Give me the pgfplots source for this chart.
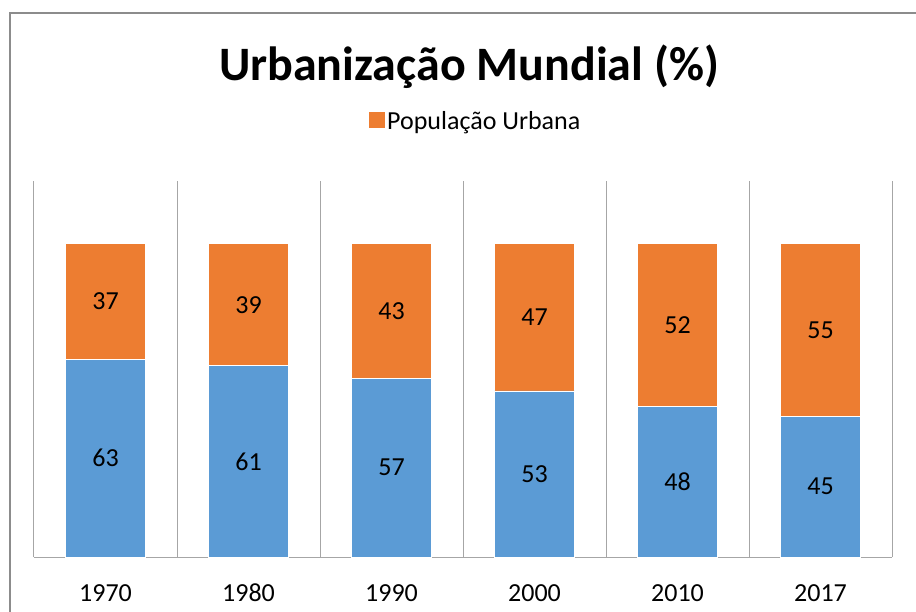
\documentclass[border=0pt]{standalone}
\usepackage{fontspec}
\setmainfont{Carlito}
\usepackage{pgfplots}
\pgfplotsset{compat=1.18}
\definecolor{rural}{HTML}{5B9BD5}
\definecolor{urbana}{HTML}{ED7D31}
\definecolor{gridgray}{HTML}{A6A6A6}
\definecolor{framegray}{HTML}{8C8C8C}
\begin{document}
\begin{tikzpicture}[x=1pt,y=1pt]
\useasboundingbox (0,0) rectangle (916,611);
\clip (0,0) rectangle (916,611);
\draw[framegray, line width=1.2pt] (10,598) rectangle (950,-40);
\begin{axis}[
  at={(34pt,54pt)}, anchor=south west,
  scale only axis, width=858pt, height=376pt,
  ybar stacked, bar width=0.56,
  xmin=-0.5, xmax=5.5, ymin=0, ymax=120,
  xtick={0,...,5},
  xticklabels={1970,1980,1990,2000,2010,2017},
  xticklabel style={font=\fontsize{26}{30}\selectfont, anchor=base, text height=18pt, text depth=0pt, yshift=-44pt},
  major tick length=0pt, minor tick length=0pt,
  ytick=\empty,
  minor xtick={-0.5,0.5,...,5.5},
  xminorgrids, minor grid style={gridgray, line width=1pt},
  axis x line*=bottom, axis y line=none,
  axis line style={gridgray, line width=1pt, -},
  /pgf/number format/assume math mode=true,
  nodes near coords,
  every node near coord/.append style={font=\fontsize{26}{30}\selectfont, text=black},
  legend style={at={(0.515,1.16)}, anchor=center, draw=none,
    font=\fontsize{26}{30}\selectfont},
  legend image code/.code={\fill[urbana] (-4pt,-7pt) rectangle (11pt,8pt);},
]
\addplot[fill=rural, draw=white, line width=0.8pt, forget plot] coordinates {
  (0,63) (1,61) (2,57) (3,53) (4,48) (5,45)};
\addplot[fill=urbana, draw=white, line width=0.8pt] coordinates {
  (0,37) (1,39) (2,43) (3,47) (4,52) (5,55)};
\addlegendentry{População Urbana}
\end{axis}
\node[font=\fontsize{48}{56}\selectfont\bfseries] at (469,544) {Urbanização Mundial (\%)};
\end{tikzpicture}
\end{document}
